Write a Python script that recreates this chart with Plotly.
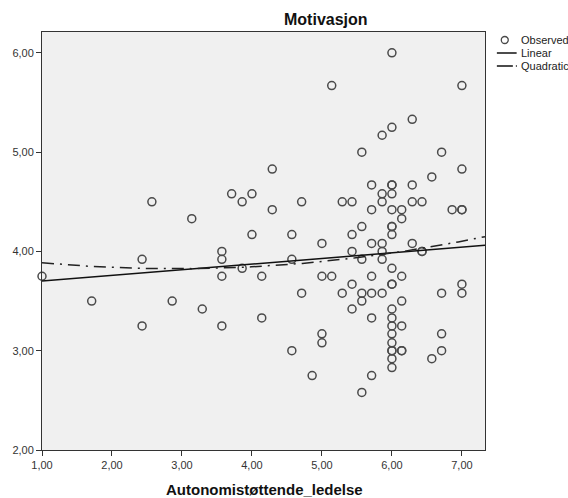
import numpy as np
import plotly.graph_objects as go

# Autonomistøttende ledelse (x) vs. motivasjon (y), one entry per respondent
autonomi = [
    1.00, 1.71, 2.43, 2.43, 2.57, 2.86, 3.14, 3.29, 3.57, 3.57, 3.57, 3.57,
    3.71, 3.86, 3.86, 4.00, 4.00, 4.14, 4.14, 4.29, 4.29, 4.57, 4.57, 4.57,
    4.71, 4.71, 4.86, 5.00, 5.00, 5.00, 5.00, 5.14, 5.14, 5.29, 5.29,
    5.43, 5.43, 5.43, 5.43, 5.43, 5.57, 5.57, 5.57, 5.57, 5.57, 5.57,
    5.71, 5.71, 5.71, 5.71, 5.71, 5.71, 5.71,
    5.86, 5.86, 5.86, 5.86, 5.86, 5.86, 5.86,
    6.00, 6.00, 6.00, 6.00, 6.00, 6.00, 6.00, 6.00, 6.00, 6.00, 6.00, 6.00,
    6.00, 6.00, 6.00, 6.00, 6.00, 6.00, 6.00, 6.00, 6.00,
    6.14, 6.14, 6.14, 6.14, 6.14, 6.14, 6.14,
    6.29, 6.29, 6.29, 6.29, 6.43, 6.43, 6.43, 6.57, 6.57,
    6.71, 6.71, 6.71, 6.71, 6.86, 7.00, 7.00, 7.00, 7.00, 7.00, 7.00,
]
motivasjon = [
    3.75, 3.50, 3.92, 3.25, 4.50, 3.50, 4.33, 3.42, 4.00, 3.92, 3.75, 3.25,
    4.58, 4.50, 3.83, 4.58, 4.17, 3.75, 3.33, 4.83, 4.42, 4.17, 3.92, 3.00,
    4.50, 3.58, 2.75, 4.08, 3.75, 3.17, 3.08, 5.67, 3.75, 4.50, 3.58,
    4.50, 4.17, 4.00, 3.67, 3.42, 5.00, 4.25, 3.92, 3.58, 3.50, 2.58,
    4.67, 4.42, 4.08, 3.75, 3.58, 3.33, 2.75,
    5.17, 4.58, 4.50, 4.08, 4.00, 3.92, 3.58,
    6.00, 5.25, 4.67, 4.67, 4.58, 4.42, 4.25, 4.25, 4.17, 3.83, 3.67, 3.67,
    3.42, 3.33, 3.25, 3.17, 3.08, 3.00, 2.92, 2.83, 3.00,
    4.42, 4.33, 3.75, 3.50, 3.25, 3.00, 3.00,
    5.33, 4.67, 4.50, 4.08, 4.50, 4.00, 4.00, 4.75, 2.92,
    5.00, 3.58, 3.17, 3.00, 4.42, 5.67, 4.83, 4.42, 4.42, 3.67, 3.58,
]

x_ticks = [1, 2, 3, 4, 5, 6, 7]
y_ticks = [2, 3, 4, 5, 6]
x_range = [1.0, 7.33]
y_range = [2.0, 6.21]

W, H = 568, 498
L, R, T, B = 37, 83, 32, 48
PW, PH = W - L - R, H - T - B


def px(x):
    return (x - L) / PW


def py(y):
    return (H - B - y) / PH


# least-squares linear and quadratic fits over the full x range
x = np.array(autonomi)
y = np.array(motivasjon)
xs = np.linspace(x_range[0], x_range[1], 200)
lin = np.polyval(np.polyfit(x, y, 1), xs)
quad = np.polyval(np.polyfit(x, y, 2), xs)

fig = go.Figure()
fig.add_trace(go.Scatter(
    x=autonomi, y=motivasjon, mode="markers", name="Observed",
    marker=dict(symbol="circle-open", size=8, color="#4a4a4a",
                line=dict(width=1.5, color="#4a4a4a")),
    showlegend=False, cliponaxis=False,
))
fig.add_trace(go.Scatter(
    x=xs, y=lin, mode="lines", name="Linear",
    line=dict(color="#111111", width=1.5), showlegend=False,
))
fig.add_trace(go.Scatter(
    x=xs, y=quad, mode="lines", name="Quadratic",
    line=dict(color="#222222", width=1.5, dash="12px,6px,2px,6px"),
    showlegend=False,
))

font_family = "Liberation Sans, Arial, sans-serif"

# legend keys drawn beside the plot area
shapes = [
    dict(type="circle", xref="paper", yref="paper", xsizemode="pixel",
         ysizemode="pixel", xanchor=px(505), yanchor=py(40),
         x0=-3.5, x1=3.5, y0=-3.5, y1=3.5,
         line=dict(color="#4a4a4a", width=1.3)),
    dict(type="line", xref="paper", yref="paper",
         x0=px(497), x1=px(517), y0=py(53), y1=py(53),
         line=dict(color="#111111", width=1.5)),
    dict(type="line", xref="paper", yref="paper",
         x0=px(497), x1=px(518), y0=py(66), y1=py(66),
         line=dict(color="#111111", width=1.5, dash="16px,3px,1px,10px")),
]
legend_labels = ["Observed", "Linear", "Quadratic"]
legend_rows = [40, 53, 66]
annotations = [
    dict(text=lab, xref="paper", yref="paper", x=px(519), y=py(row),
         xanchor="left", yanchor="middle", showarrow=False,
         font=dict(size=11, color="#222222", family=font_family))
    for lab, row in zip(legend_labels, legend_rows)
]
annotations.append(dict(
    text="<b>Motivasjon</b>", xref="paper", yref="paper", x=px(324), y=py(19),
    xanchor="center", yanchor="middle", showarrow=False,
    font=dict(size=16, color="#111111", family=font_family)))
annotations.append(dict(
    text="<b>Autonomistøttende_ledelse</b>", xref="paper", yref="paper",
    x=px(262), y=py(489), xanchor="center", yanchor="middle", showarrow=False,
    font=dict(size=15, color="#111111", family=font_family)))

fig.update_layout(
    width=W, height=H,
    margin=dict(l=L, r=R, t=T, b=B),
    paper_bgcolor="white", plot_bgcolor="#f0f0f0",
    separators=",.",
    font=dict(family=font_family, size=11, color="#333333"),
    shapes=shapes, annotations=annotations,
)
fig.update_xaxes(
    range=x_range, tickvals=x_ticks, tickformat=".2f",
    showgrid=False, zeroline=False,
    showline=True, linecolor="#333333", linewidth=1, mirror=True,
    ticks="outside", ticklen=5, tickcolor="#333333",
    tickfont=dict(size=11, color="#333333"),
)
fig.update_yaxes(
    range=y_range, tickvals=y_ticks, tickformat=".2f",
    showgrid=False, zeroline=False,
    showline=True, linecolor="#333333", linewidth=1, mirror=True,
    ticks="outside", ticklen=5, tickcolor="#333333",
    tickfont=dict(size=11, color="#333333"),
)

fig.write_html("out.html")
